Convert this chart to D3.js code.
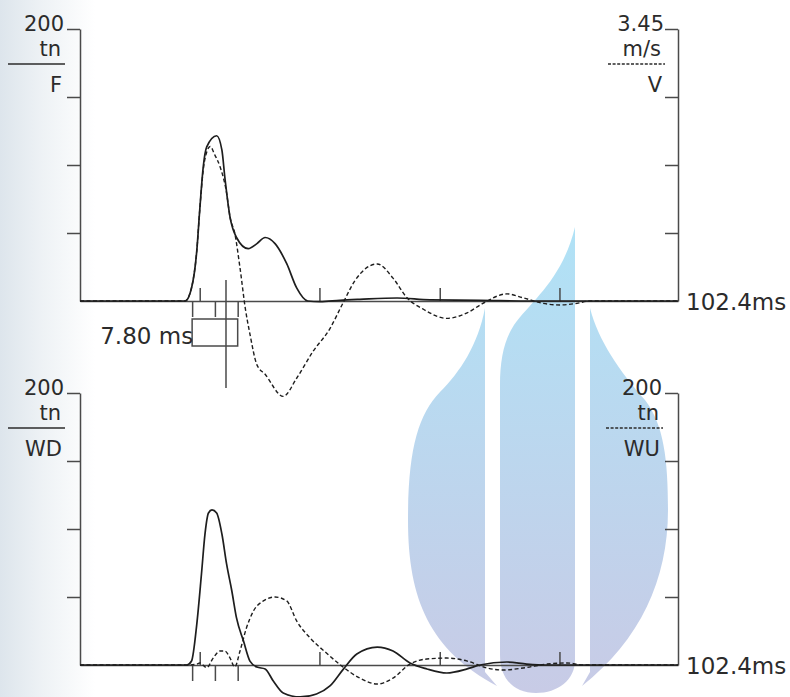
<!DOCTYPE html>
<html>
<head>
<meta charset="utf-8">
<script src="https://cdnjs.cloudflare.com/ajax/libs/d3/7.8.5/d3.min.js"></script>
<style>
  html, body { margin: 0; padding: 0; background: #fff; }
  svg { display: block; }
  text { font-family: "DejaVu Sans", Verdana, sans-serif; fill: #2b2b2b; }
</style>
</head>
<body>
<div id="chart"></div>
<script>
// ---- data -----------------------------------------------------------------
const forceTime = [0,18.0,19.1,20.0,20.5,21.1,21.7,23.4,24.3,24.8,25.7,26.8,28.8,30.3,31.7,33.4,35.4,37.1,39.0,41.1,44.5,47.9,54.3,59.9,68.5,77.1,102.4];
const forceTn   = [0,0,9.6,37,66.7,98.5,113.3,121.5,111,91,61.5,46.7,38.5,42.2,46.7,42.2,27.4,9.6,0,-0.5,0.5,1.2,2.2,0.8,0.5,0,0];

const velTime = [0,18.0,19.1,20.0,20.5,21.1,21.7,22.3,23.1,24.0,25.1,25.7,26.5,27.4,28.3,29.1,30.3,31.7,34.8,37.1,39.9,42.8,45.0,47.1,50.9,53.6,56.0,58.7,62.8,66.3,69.0,73.1,75.9,79.3,82.2,85.1,87.3,102.4];
const velMs   = [0,0,0.17,0.64,1.15,1.66,1.89,1.96,1.85,1.70,1.37,1.06,0.86,0.42,-0.09,-0.42,-0.81,-0.93,-1.21,-0.98,-0.64,-0.35,-0.03,0.26,0.47,0.29,0.04,-0.10,-0.22,-0.15,-0.03,0.09,0.04,-0.03,-0.05,-0.03,0,0];

const wdTime = [0,18.3,19.1,20.0,20.8,21.4,22.0,22.6,23.4,24.3,25.1,26.0,26.8,28.0,29.1,30.3,31.7,33.1,34.8,37.7,40.5,42.8,45.1,47.4,50.9,53.6,56.5,59.4,62.8,66.3,68.5,73.1,76.5,80.0,102.4];
const wdTn   = [0,0,2.9,30.1,66.9,96.3,111.8,114,111.8,96.3,74.3,54.4,34.6,17.6,2.9,-1.5,-2.9,-11.8,-20.6,-23.5,-21.3,-15.4,-3,8.1,13.2,10.3,1.5,-2.9,-5.9,-2.9,0,2.2,0.7,0,0];

const wuTime = [0,18.3,20.0,20.5,21.7,22.8,24.0,24.8,25.7,26.5,27.4,28.5,29.7,31.4,33.4,35.4,37.1,39.4,42.2,44.8,47.9,50.9,53.6,56.5,59.4,62.8,66.3,69.7,72.4,75.9,80.0,83.4,86.1,102.4];
const wuTn   = [0,0,0.7,1.5,-2.0,5.1,10.3,10.3,5.1,-1.5,10.3,27.2,39.7,47.1,50,47.1,32.4,19.9,8.8,-0.7,-9.6,-14,-9.6,0.7,4.4,5.1,2.9,-2.2,-3.7,-2.2,0.7,1.5,0,0];

const timeMax = 102.4;          // ms
const forceMax = 200;           // tn
const velMax = 3.45;            // m/s
const waveMarks = [20.5, 41.0, 61.6, 82.1];   // 2L/c marks (ms)
const riseMarks = [19.2, 23.1, 27.0];         // marks under baseline (ms)
const cursorTime = 25.0;
const riseLabel = '7.80 ms';
const timeLabel = '102.4ms';

// ---- layout ----------------------------------------------------------------
const width = 790, height = 697;
const left = 80, right = 678;
const panels = [
  { top: 29, base: 301 },
  { top: 393, base: 665 }
];

const svg = d3.select('#chart').append('svg')
  .attr('width', width)
  .attr('height', height);

const defs = svg.append('defs');

// scan shading on the left edge
const shade = defs.append('linearGradient').attr('id', 'shade')
  .attr('x1', 0).attr('x2', 1).attr('y1', 0).attr('y2', 0);
shade.append('stop').attr('offset', 0).attr('stop-color', '#dde5ec');
shade.append('stop').attr('offset', 0.45).attr('stop-color', '#eef2f5');
shade.append('stop').attr('offset', 1).attr('stop-color', '#ffffff');
svg.append('rect')
  .attr('x', 0).attr('y', 0).attr('width', 95).attr('height', height)
  .attr('fill', 'url(#shade)');

// watermark logo (decoration, not data)
const logoGrad = defs.append('linearGradient').attr('id', 'logoGrad')
  .attr('gradientUnits', 'userSpaceOnUse')
  .attr('x1', 0).attr('x2', 0).attr('y1', 227).attr('y2', 692);
logoGrad.append('stop').attr('offset', 0).attr('stop-color', '#b0e2f6');
logoGrad.append('stop').attr('offset', 1).attr('stop-color', '#c8cbe6');

const logoPaths = [
  'M485,308 C478,345 460,372 440,392 C418,415 408,450 408,520 C408,600 430,650 497,686 L485,672 Z',
  'M575,227 C562,280 532,300 514,325 C504,340 500,360 500,385 L500,655 C500,680 515,693 536,693 C558,693 575,680 575,660 Z',
  'M590,308 C598,340 620,372 645,400 C664,425 668,460 668,510 C668,580 640,640 582,686 L590,672 Z'
];
svg.append('g')
  .selectAll('path')
  .data(logoPaths)
  .enter()
  .append('path')
    .attr('d', d => d)
    .attr('fill', 'url(#logoGrad)');

// ---- scales ----------------------------------------------------------------
const xScale = d3.scaleLinear().domain([0, timeMax]).range([left, right]);
const yTop = d3.scaleLinear().domain([0, forceMax]).range([panels[0].base, panels[0].top]);
const vTop = d3.scaleLinear().domain([0, velMax]).range([panels[0].base, panels[0].top]);
const yBot = d3.scaleLinear().domain([0, forceMax]).range([panels[1].base, panels[1].top]);

const axisColor = '#4a4a4a';
const traceColor = '#1e1e1e';

function styleAxis(g){
  g.selectAll('path').attr('stroke', axisColor).attr('stroke-width', 1.5);
  g.selectAll('line').attr('stroke', axisColor).attr('stroke-width', 1.5);
  g.selectAll('text').remove();
}

// ---- axes ------------------------------------------------------------------
function drawFrame(scaleL, scaleR, base){
  const quarter = d => d3.range(1, 5).map(i => i * d / 4);

  svg.append('g')
    .attr('transform', 'translate(' + left + ',0)')
    .call(d3.axisLeft(scaleL).tickValues(quarter(scaleL.domain()[1])).tickSize(13).tickSizeOuter(0))
    .call(styleAxis);

  // right axis: ticks point inwards
  svg.append('g')
    .attr('transform', 'translate(' + right + ',0)')
    .call(d3.axisLeft(scaleR).tickValues(quarter(scaleR.domain()[1])).tickSize(13).tickSizeOuter(0))
    .call(styleAxis);

  // baseline with 2L/c marks above
  svg.append('g')
    .attr('transform', 'translate(0,' + base + ')')
    .call(d3.axisTop(xScale).tickValues(waveMarks).tickSize(13).tickSizeOuter(0))
    .call(styleAxis);

  // marks below baseline
  const below = svg.append('g')
    .attr('transform', 'translate(0,' + base + ')')
    .call(d3.axisBottom(xScale).tickValues(riseMarks).tickSize(16).tickSizeOuter(0))
    .call(styleAxis);
  below.select('.domain').remove();

  svg.append('text')
    .attr('x', right + 8)
    .attr('y', base + 9)
    .style('font-size', '23px')
    .text(timeLabel);
}

drawFrame(yTop, vTop, panels[0].base);
drawFrame(yBot, yBot, panels[1].base);

// ---- axis captions ---------------------------------------------------------
function caption(xRight, top, lines, dashed){
  const g = svg.append('g');
  g.append('text').attr('x', xRight).attr('y', top + 2)
    .attr('text-anchor', 'end').style('font-size', '21px').text(lines[0]);
  g.append('text').attr('x', xRight - 3).attr('y', top + 27)
    .attr('text-anchor', 'end').style('font-size', '21px').text(lines[1]);
  g.append('line')
    .attr('x1', xRight - 56).attr('x2', xRight + 1)
    .attr('y1', top + 35).attr('y2', top + 35)
    .attr('stroke', '#2b2b2b')
    .attr('stroke-width', dashed ? 1.3 : 1.6)
    .attr('stroke-dasharray', dashed ? '3,1.6' : null);
  g.append('text').attr('x', xRight - 2).attr('y', top + 63)
    .attr('text-anchor', 'end').style('font-size', '21px').text(lines[2]);
}

caption(64, panels[0].top, [String(forceMax), 'tn', 'F'], false);
caption(664, panels[0].top, [String(velMax), 'm/s', 'V'], true);
caption(64, panels[1].top, [String(forceMax), 'tn', 'WD'], false);
caption(662, panels[1].top, [String(forceMax), 'tn', 'WU'], true);

// ---- rise time box and cursor ----------------------------------------------
const boxTop = panels[0].base + 18;
svg.append('rect')
  .attr('x', xScale(riseMarks[0]))
  .attr('y', boxTop)
  .attr('width', xScale(riseMarks[2]) - xScale(riseMarks[0]))
  .attr('height', 27)
  .attr('fill', 'none')
  .attr('stroke', axisColor)
  .attr('stroke-width', 1.5);

svg.append('line')
  .attr('x1', xScale(cursorTime)).attr('x2', xScale(cursorTime))
  .attr('y1', panels[0].base - 21).attr('y2', panels[0].base + 87)
  .attr('stroke', axisColor)
  .attr('stroke-width', 1.5);

svg.append('text')
  .attr('x', xScale(riseMarks[0]) + 1)
  .attr('y', boxTop + 25)
  .attr('text-anchor', 'end')
  .style('font-size', '23px')
  .text(riseLabel);

// ---- traces ----------------------------------------------------------------
function trace(times, values, yScale, dashed){
  const pts = times.map((t, i) => [t, values[i]]);
  const line = d3.line()
    .x(d => xScale(d[0]))
    .y(d => yScale(d[1]))
    .curve(d3.curveMonotoneX);
  svg.append('path')
    .datum(pts)
    .attr('d', line)
    .attr('fill', 'none')
    .attr('stroke', traceColor)
    .attr('stroke-width', dashed ? 1.4 : 1.7)
    .attr('stroke-dasharray', dashed ? '4,2.5' : null);
}

trace(forceTime, forceTn, yTop, false);
trace(velTime, velMs, vTop, true);
trace(wdTime, wdTn, yBot, false);
trace(wuTime, wuTn, yBot, true);
</script>
</body>
</html>
